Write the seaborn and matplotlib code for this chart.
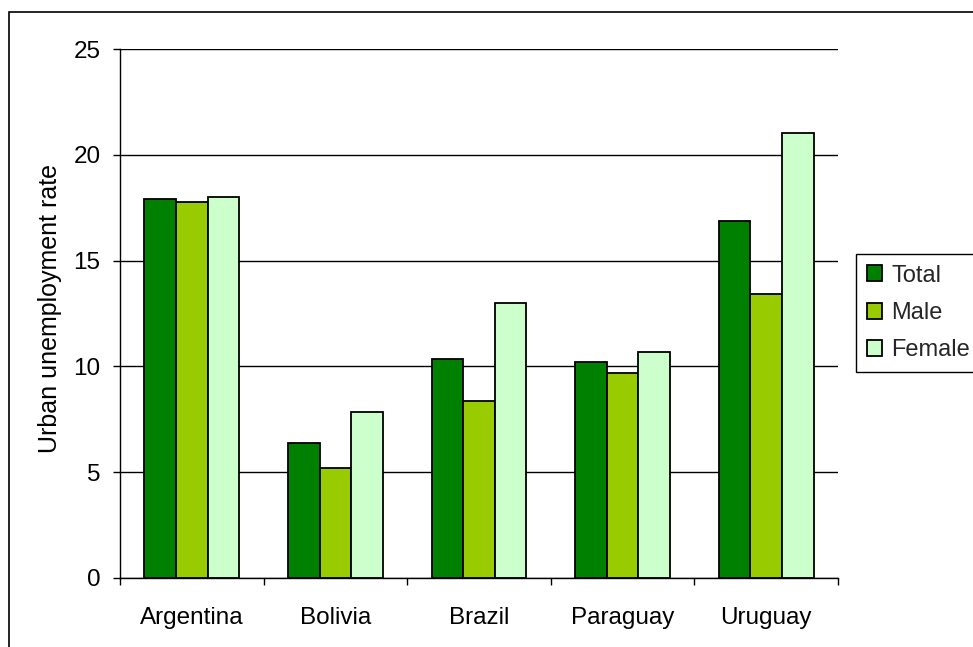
import numpy as np
import pandas as pd
import seaborn as sns
import matplotlib.pyplot as plt
from matplotlib.patches import Rectangle
from matplotlib.ticker import FixedLocator

# Data
countries = ['Argentina', 'Bolivia', 'Brazil', 'Paraguay', 'Uruguay']
total = [17.9, 6.4, 10.35, 10.2, 16.85]
male = [17.75, 5.2, 8.35, 9.7, 13.4]
female = [18.0, 7.85, 13.0, 10.7, 21.05]
series = ['Total', 'Male', 'Female']
colors = ['#008000', '#99CC00', '#CCFFCC']

data = pd.DataFrame({
    'country': countries * 3,
    'rate': total + male + female,
    'series': [s for s in series for _ in countries],
})

sns.set_theme(style='white')
plt.rcParams['font.family'] = ['Liberation Sans', 'DejaVu Sans']

fig = plt.figure(figsize=(9.73, 6.47), dpi=100)
ax = fig.add_axes([120 / 973, 1 - 578 / 647, 718 / 973, 529 / 647])

sns.barplot(data=data, x='country', y='rate', hue='series', hue_order=series,
            palette=colors, width=0.66, gap=0, saturation=1, errorbar=None,
            edgecolor='black', linewidth=1.3, ax=ax)

# Axes styling, Excel-like
ax.set_xlim(-0.5, 4.5)
ax.set_ylim(0, 25)
ax.set_yticks(np.arange(0, 26, 5))
ax.yaxis.grid(True, color='black', linewidth=1)
ax.set_axisbelow(True)
for side in ['top', 'right']:
    ax.spines[side].set_visible(False)
for side in ['left', 'bottom']:
    ax.spines[side].set_color('black')
    ax.spines[side].set_linewidth(1)

ax.xaxis.set_minor_locator(FixedLocator(np.arange(-0.5, 5, 1)))
ax.tick_params(axis='x', which='major', length=0, pad=21, labelsize=17.5, colors='black')
ax.tick_params(axis='x', which='minor', bottom=True, direction='out', length=5, width=1, color='black')
ax.tick_params(axis='y', left=True, direction='out', length=5, width=1, pad=9,
               labelsize=17.5, colors='black')

ax.set_xlabel('')
ax.set_ylabel('Urban unemployment rate', fontsize=18, color='black')
ax.yaxis.set_label_coords(-0.081, 0.51)

# Legend
handles, labels = ax.get_legend_handles_labels()
ax.legend(handles, labels, loc='upper left',
          bbox_to_anchor=(856 / 973, 1 - 254 / 647), bbox_transform=fig.transFigure,
          borderaxespad=0, fontsize=17, frameon=True, fancybox=False,
          edgecolor='black', framealpha=1, handlelength=0.67, handleheight=0.67,
          handletextpad=0.38, labelspacing=0.65, borderpad=0.45)

# Outer chart border
fig.patches.append(Rectangle((9 / 973, -0.1), 1.2, 1.1 - 12 / 647, transform=fig.transFigure,
                             fill=False, edgecolor='black', linewidth=1.2))

fig.savefig('out.png', dpi=100)
